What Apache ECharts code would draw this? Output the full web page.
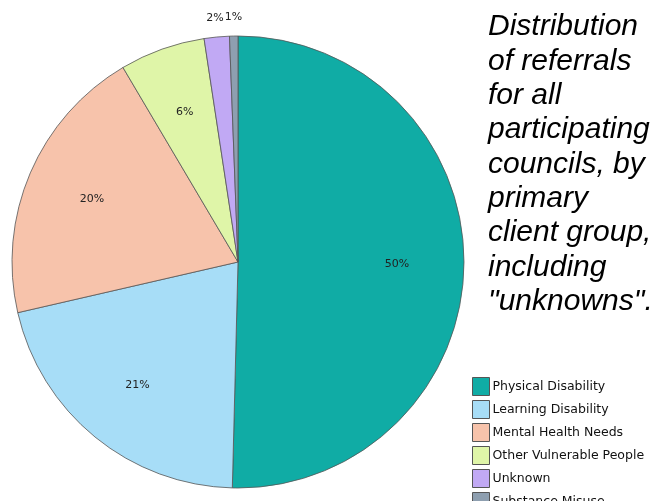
<!DOCTYPE html>
<html>
<head>
<meta charset="utf-8">
<script src="https://cdn.jsdelivr.net/npm/echarts@6/dist/echarts.min.js"></script>
<style>
  html, body { margin: 0; padding: 0; background: #fff; }
  #chart { width: 662px; height: 501px; }
</style>
</head>
<body>
<div id="chart"></div>
<script>
const categories = ['Physical Disability', 'Learning Disability', 'Mental Health Needs',
    'Other Vulnerable People', 'Unknown', 'Substance Misuse'];
const shares = [50.4, 21.0, 20.1, 6.1, 1.8, 0.6];
const sliceColors = ['#10aca5', '#a7ddf7', '#f7c3ab', '#dff5a8', '#c1a9f4', '#8e9fb0'];
const titleLines = ['Distribution', 'of referrals', 'for all', 'participating',
    'councils, by', 'primary', 'client group,', 'including', '"unknowns".'];

const center = [238, 262];
const pct = p => Math.round(p.percent) + '%';

const pieData = categories.map((name, i) => ({
    name: name,
    value: shares[i],
    itemStyle: { color: sliceColors[i] }
}));

// transparent copies of the pie, only there to place the labels
const labelRing = (radius, showFn) => ({
    type: 'pie',
    center: center,
    radius: radius,
    startAngle: 90,
    silent: true,
    emphasis: { disabled: true },
    itemStyle: { color: 'transparent', borderWidth: 0 },
    labelLine: { show: false },
    data: categories.map((name, i) => ({
        name: name,
        value: shares[i],
        label: { show: showFn(i) }
    })),
    label: {
        position: 'inside',
        formatter: pct,
        fontFamily: 'DejaVu Sans',
        fontSize: 11,
        color: '#222'
    }
});

const chart = echarts.init(document.getElementById('chart'));
chart.setOption({
    animation: false,
    title: {
        text: titleLines.join('\n'),
        left: 488,
        top: 10,
        padding: 0,
        textStyle: {
            fontFamily: 'Liberation Sans',
            fontStyle: 'italic',
            fontWeight: 'normal',
            fontSize: 30,
            lineHeight: 34.3,
            color: '#000'
        }
    },
    legend: {
        orient: 'vertical',
        left: 472,
        top: 377,
        height: 140,
        padding: 0,
        itemWidth: 17,
        itemHeight: 18,
        itemGap: 4,
        icon: 'rect',
        data: categories,
        itemStyle: { borderColor: '#555', borderWidth: 1 },
        textStyle: { fontFamily: 'DejaVu Sans', fontSize: 12.5, color: '#111', padding: [0, 0, 0, -2] }
    },
    series: [
        {
            type: 'pie',
            center: center,
            radius: 226,
            startAngle: 90,
            silent: true,
            label: { show: false },
            labelLine: { show: false },
            itemStyle: { borderColor: '#555', borderWidth: 0.8 },
            data: pieData
        },
        labelRing([90, 222], i => i < 4),
        labelRing([233, 251], i => i >= 4)
    ]
});
</script>
</body>
</html>
